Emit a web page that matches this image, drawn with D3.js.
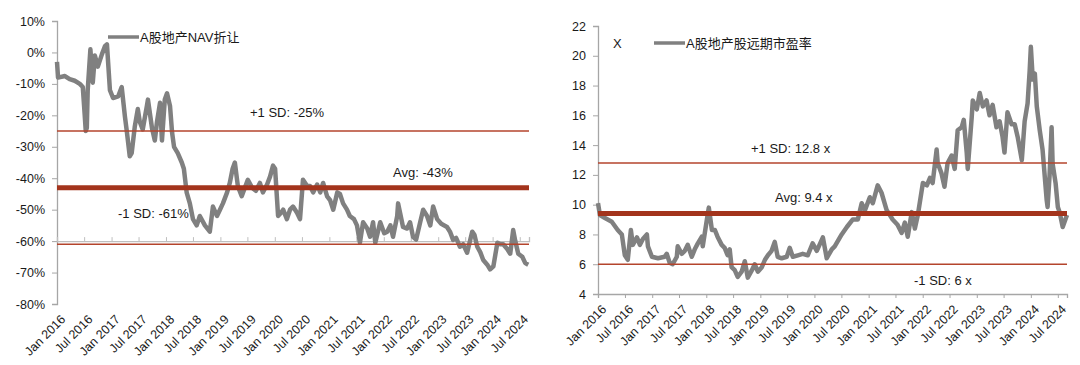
<!DOCTYPE html>
<html><head><meta charset="utf-8">
<script src="https://cdn.jsdelivr.net/npm/d3@7"></script>
<style>
html,body{margin:0;padding:0;background:#fff;}
svg{display:block;font-family:"Liberation Sans",Arial,"Noto Sans CJK SC",sans-serif;}
</style></head>
<body>
<svg id="c" width="1080" height="365"></svg>
<script>
// ---------- Left chart data: A股地产NAV折让 (%) ----------
const navDates = ["2016-01-01","2016-01-08","2016-02-23","2016-03-26","2016-04-29","2016-06-02","2016-06-22","2016-07-05","2016-07-12","2016-07-19","2016-07-25","2016-08-12","2016-08-28","2016-09-11","2016-10-01","2016-10-28","2016-11-18","2016-12-01","2016-12-21","2017-01-11","2017-02-14","2017-03-10","2017-04-01","2017-04-13","2017-05-03","2017-05-16","2017-06-06","2017-06-26","2017-07-09","2017-07-29","2017-08-26","2017-09-02","2017-09-29","2017-10-18","2017-11-02","2017-11-22","2017-12-05","2017-12-24","2018-01-08","2018-01-28","2018-02-11","2018-02-24","2018-03-21","2018-04-17","2018-05-01","2018-05-20","2018-06-10","2018-07-01","2018-07-26","2018-08-16","2018-09-19","2018-10-22","2018-11-12","2018-12-09","2018-12-29","2019-01-18","2019-02-15","2019-03-05","2019-03-24","2019-04-08","2019-04-28","2019-05-24","2019-06-14","2019-07-04","2019-08-01","2019-08-27","2019-09-23","2019-10-13","2019-11-10","2019-11-30","2019-12-20","2020-01-03","2020-01-23","2020-02-12","2020-02-26","2020-03-22","2020-04-12","2020-05-02","2020-05-29","2020-06-18","2020-07-08","2020-08-05","2020-08-24","2020-09-14","2020-10-11","2020-11-01","2020-11-20","2020-12-17","2021-01-06","2021-01-27","2021-02-23","2021-03-13","2021-04-03","2021-04-29","2021-05-18","2021-06-15","2021-07-05","2021-07-25","2021-08-15","2021-09-12","2021-10-01","2021-10-21","2021-11-05","2021-12-08","2022-01-04","2022-01-24","2022-02-14","2022-03-04","2022-04-01","2022-04-07","2022-04-20","2022-05-10","2022-06-06","2022-06-26","2022-07-16","2022-08-06","2022-09-02","2022-09-22","2022-10-18","2022-11-09","2022-11-28","2022-12-25","2023-01-21","2023-03-01","2023-03-21","2023-04-11","2023-05-01","2023-05-27","2023-06-17","2023-07-14","2023-08-17","2023-09-01","2023-09-20","2023-10-10","2023-10-30","2023-11-26","2023-12-15","2024-01-06","2024-02-02","2024-02-22","2024-03-12","2024-04-08","2024-04-28","2024-05-18","2024-06-01","2024-06-21","2024-07-18","2024-08-07","2024-08-27"];
const navValues = [-3,-8,-7.5,-8.5,-9,-10,-11,-20,-25,-24,-12,1,-9.6,-1,-4.5,-0.6,2,2.6,-12,-14.5,-14,-11,-20.5,-25,-33,-32,-23.5,-18,-22,-24.5,-17,-15,-24,-28,-22,-16,-28,-15,-13,-17,-25.5,-30,-32,-35,-37,-44.6,-48,-53,-55,-52,-55,-57,-49,-52,-50,-48,-44.5,-41.5,-37,-35,-42.5,-45.7,-43,-40.5,-43,-44,-41.5,-44.5,-42,-39.5,-36,-37,-52,-51,-50,-53,-50,-49,-51,-53,-40.5,-42.5,-42.5,-44.5,-42,-44.5,-41.5,-45.8,-47,-50,-44.5,-45,-48,-50,-52,-53,-55,-60.5,-54,-56,-58.6,-54,-60.5,-54,-57.5,-57,-55,-58.6,-52,-48,-51,-55.5,-56,-54,-58.6,-59.5,-54,-50,-52,-55,-49,-53,-54.5,-55.5,-57,-59.6,-59,-61.8,-61,-63.7,-57,-58,-61.8,-63.5,-66,-67.5,-69,-68,-60.5,-61,-61,-62.5,-64,-56.5,-60,-64,-65,-67,-67.5];
const navTicksY = [10,0,-10,-20,-30,-40,-50,-60,-70,-80];
const navRefLines = [{label:"+1 SD: -25%", v:-25}, {label:"Avg: -43%", v:-43}, {label:"-1 SD: -61%", v:-61}];

// ---------- Right chart data: A股地产股远期市盈率 (x) ----------
const peDates = ["2016-01-01","2016-01-14","2016-02-17","2016-04-03","2016-05-13","2016-06-10","2016-06-30","2016-07-20","2016-08-10","2016-08-23","2016-09-20","2016-10-10","2016-10-30","2016-11-26","2016-12-03","2016-12-30","2017-02-09","2017-03-26","2017-04-09","2017-04-29","2017-05-19","2017-06-16","2017-06-22","2017-07-19","2017-08-09","2017-08-29","2017-09-25","2017-10-15","2017-11-05","2017-12-02","2017-12-08","2018-01-05","2018-01-18","2018-02-08","2018-02-28","2018-03-18","2018-04-15","2018-05-05","2018-05-25","2018-06-08","2018-06-21","2018-07-12","2018-08-01","2018-08-28","2018-09-18","2018-10-08","2018-11-05","2018-11-24","2018-12-15","2019-01-11","2019-02-01","2019-02-21","2019-03-18","2019-04-08","2019-04-28","2019-05-25","2019-06-28","2019-07-18","2019-08-08","2019-09-11","2019-10-14","2019-11-17","2019-12-20","2020-01-17","2020-02-27","2020-03-24","2020-04-27","2020-05-17","2020-07-03","2020-08-07","2020-09-15","2020-10-20","2020-11-15","2020-12-06","2021-01-09","2021-01-29","2021-03-03","2021-03-29","2021-05-02","2021-06-12","2021-07-15","2021-08-12","2021-09-02","2021-09-22","2021-10-19","2021-11-09","2021-11-29","2022-01-02","2022-01-29","2022-02-19","2022-03-09","2022-04-05","2022-04-12","2022-05-08","2022-05-28","2022-06-18","2022-07-15","2022-08-05","2022-08-25","2022-09-21","2022-10-05","2022-10-25","2022-11-01","2022-11-28","2022-12-05","2023-01-01","2023-01-21","2023-02-11","2023-03-08","2023-03-28","2023-04-18","2023-05-14","2023-06-04","2023-06-24","2023-07-07","2023-07-27","2023-08-24","2023-09-14","2023-10-04","2023-11-01","2023-11-20","2023-12-10","2023-12-24","2024-01-01","2024-01-14","2024-01-28","2024-02-10","2024-03-01","2024-03-20","2024-04-17","2024-04-23","2024-05-06","2024-05-20","2024-05-27","2024-06-16","2024-07-01","2024-07-13","2024-08-03","2024-09-01"];
const peValues = [10.1,9.3,9.1,8.85,8.3,8.0,6.6,6.3,8.3,7.3,7.8,7.3,7.7,8.0,7.2,6.5,6.4,6.5,6.7,6.1,6.0,6.5,7.2,6.7,6.9,7.3,6.5,7.0,7.4,7.85,7.2,9.0,9.8,8.3,8.3,7.85,7.3,7.1,6.6,7.0,5.8,5.6,5.15,5.5,6.2,5.1,5.6,6.0,5.5,5.8,6.3,6.6,6.9,7.5,6.5,6.4,6.5,7.1,6.5,6.6,6.7,6.6,7.4,6.9,7.8,6.4,7.0,7.2,8.0,8.5,9.0,9.0,10.1,9.6,10.5,10.1,11.3,10.8,9.65,9.0,8.65,8.1,8.8,7.85,9.5,8.4,9.3,11.45,11.3,11.8,11.45,13.7,12.8,12.1,11.2,12.8,13.3,12.4,15.0,15.2,15.7,13.5,12.4,15.9,17.0,16.4,17.5,16.6,17.0,16.0,16.7,15.2,15.6,14.55,13.5,16.2,15.4,15.4,14.55,13.0,15.6,16.8,19.0,20.6,18.4,18.8,16.6,15.0,13.7,10.3,9.85,11.9,15.2,12.75,11.45,9.85,9.5,8.5,9.3];
const peTicksY = [4,6,8,10,12,14,16,18,20,22];
const peRefLines = [{label:"+1 SD: 12.8 x", v:12.8}, {label:"Avg: 9.4 x", v:9.4}, {label:"-1 SD: 6 x", v:6}];

const parse = d3.timeParse("%Y-%m-%d");
const svg = d3.select("#c");
const GREY = "#808080", AXIS = "#a6a6a6", AVG = "#a3341c", SD = "#b4442c", TXT = "#1a1a1a";
const xDomain = [new Date(2016,0,1), new Date(2024,8,1)];
const xTicks = d3.timeMonth.every(6).range(new Date(2016,0,1), new Date(2024,7,2));
const fmtX = d3.timeFormat("%b %Y");

function drawChart(cfg){
  const g = svg.append("g");
  const x = d3.scaleTime().domain(xDomain).range([cfg.x0, cfg.x1]);
  const y = d3.scaleLinear().domain(cfg.yDomain).range([cfg.yBottom, cfg.yTop]);

  // y axis
  const ya = g.append("g").attr("transform",`translate(${cfg.x0},0)`)
    .call(d3.axisLeft(y).tickValues(cfg.yTicks).tickFormat(cfg.yFmt).tickSize(5).tickPadding(7));
  ya.select(".domain").attr("stroke",AXIS).attr("stroke-width",1.3);
  ya.selectAll(".tick line").attr("stroke",AXIS);
  ya.selectAll("text").attr("fill",TXT).style("font-size","12.5px");

  // x axis line (crossing value) with ticks
  const xa = g.append("g").attr("transform",`translate(0,${y(cfg.xCross)})`)
    .call(d3.axisBottom(x).tickValues(xTicks).tickSize(cfg.xTickSize).tickFormat(""));
  xa.select(".domain").attr("stroke",cfg.xAxisColor).attr("stroke-width",1.3);
  xa.selectAll(".tick line").attr("stroke",cfg.xAxisColor);

  // x tick labels at bottom, rotated
  g.append("g").selectAll("text").data(xTicks).join("text")
    .attr("transform",d=>`translate(${x(d)+3},${cfg.yBottom+10}) rotate(-45)`)
    .attr("text-anchor","end").attr("dy","0.7em")
    .attr("fill",TXT).style("font-size","12.5px")
    .text(fmtX);

  // data line
  const pts = cfg.dates.map((d,i)=>[parse(d), cfg.values[i]]);
  g.append("path").datum(pts)
    .attr("fill","none").attr("stroke",GREY).attr("stroke-width",4.5).attr("stroke-linejoin","round")
    .attr("d", d3.line().x(d=>x(d[0])).y(d=>y(d[1])));

  // reference lines
  cfg.refs.forEach((r,i)=>{
    g.append("line").attr("x1",cfg.x0).attr("x2",cfg.x1).attr("y1",y(r.v)).attr("y2",y(r.v))
      .attr("stroke", i===1?AVG:SD).attr("stroke-width", i===1?5:1.6);
    g.append("text").attr("x",cfg.labelPos[i][0]).attr("y",cfg.labelPos[i][1])
      .attr("fill",TXT).style("font-size","13px").text(r.label);
  });

  // legend
  g.append("line").attr("x1",cfg.legend[0]).attr("x2",cfg.legend[0]+31)
    .attr("y1",cfg.legend[1]).attr("y2",cfg.legend[1]).attr("stroke",GREY).attr("stroke-width",3.5);
  g.append("text").attr("x",cfg.legend[0]+32).attr("y",cfg.legend[1]+4.5)
    .attr("fill",TXT).style("font-size","13px").text(cfg.name);
  if(cfg.extra) g.append("text").attr("x",cfg.extra[0]).attr("y",cfg.extra[1])
    .attr("fill",TXT).style("font-size","13px").text("X");
}

drawChart({
  x0:57, x1:529, yTop:21, yBottom:304, yDomain:[-80,10], yTicks:navTicksY,
  yFmt:d=>d+"%", xCross:-60, xTickSize:-4, xAxisColor:"#bfbfbf",
  dates:navDates, values:navValues, refs:navRefLines,
  labelPos:[[250,117],[393,177],[118,218]],
  legend:[108,37], name:"A股地产NAV折让"
});
drawChart({
  x0:598, x1:1067, yTop:26, yBottom:294, yDomain:[4,22], yTicks:peTicksY,
  yFmt:d3.format("d"), xCross:4, xTickSize:4, xAxisColor:AXIS,
  dates:peDates, values:peValues, refs:peRefLines,
  labelPos:[[751,153],[775,202],[914,285]],
  legend:[654,43], name:"A股地产股远期市盈率", extra:[613,48]
});
</script>
</body></html>
